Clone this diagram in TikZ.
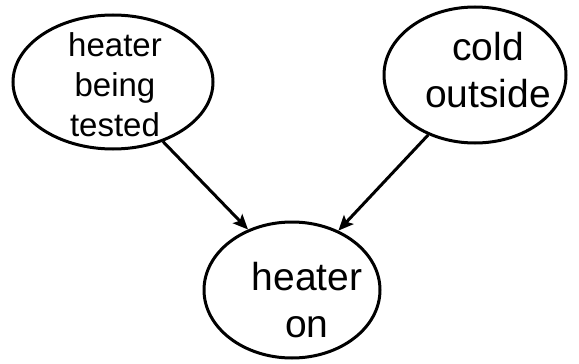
\documentclass[tikz,border=0pt]{standalone}
\usepackage{fontspec}
\setmainfont{Liberation Sans}
\usetikzlibrary{shapes.geometric,arrows.meta}
\begin{document}
\begin{tikzpicture}[x=1pt,y=-1pt,
  oval/.style={draw,ellipse,line width=3pt,inner sep=0pt},
  lbl/.style={align=center,inner sep=0pt,anchor=north},
  conn/.style={line width=3pt,-{Stealth[length=15pt,width=13pt,inset=3pt]}}]
\useasboundingbox (0,0) rectangle (579,364);
\node[oval,minimum width=200pt,minimum height=134pt] (a) at (113,82) {};
\node[oval,minimum width=182pt,minimum height=136pt] (b) at (475,75) {};
\node[oval,minimum width=176pt,minimum height=136pt] (c) at (292,290) {};
\node[lbl,font=\fontsize{33}{40}\selectfont] (ta) at (115,32) {heater\\being\\tested};
\node[lbl,font=\fontsize{39}{47}\selectfont] (tb) at (488,32) {cold\\outside};
\node[lbl,font=\fontsize{39}{47}\selectfont] (tc) at (307,262) {heater\\on};
\draw[conn] (a.-50) -- (c.126);
\draw[conn] (b.232) -- (c.52);
\end{tikzpicture}
\end{document}
